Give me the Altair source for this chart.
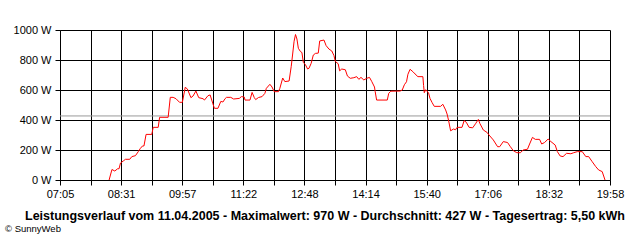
import json
import altair as alt
import pandas as pd

# Time of day (HH:MM) and power (W)
times = ["08:14","08:18","08:22","08:26","08:28","08:30","08:34","08:37","08:43","08:46",
         "08:51","08:55","08:58","09:01","09:03","09:06","09:14","09:16","09:23","09:25",
         "09:37","09:40","09:44","09:48","09:53","09:57","10:01","10:04","10:09","10:12",
         "10:16","10:20","10:26","10:28","10:33","10:36","10:40","10:42","10:47","10:51",
         "10:54","10:57","10:59","11:05","11:09","11:17","11:20","11:24","11:25","11:32",
         "11:35","11:38","11:40","11:44","11:49","11:53","11:55","12:00","12:03","12:06",
         "12:12","12:14","12:18","12:21","12:27","12:30","12:32","12:34","12:36","12:38",
         "12:40","12:43","12:45","12:47","12:50","12:53","12:55","12:58","13:01","13:04",
         "13:08","13:10","13:16","13:19","13:23","13:27","13:30","13:32","13:36","13:38",
         "13:41","13:46","13:49","13:53","13:58","14:02","14:05","14:08","14:12","14:16",
         "14:20","14:23","14:27","14:28","14:30","14:45","14:47","14:50","15:03","15:06",
         "15:09","15:12","15:14","15:17","15:21","15:24","15:28","15:35","15:36","15:37",
         "15:39","15:43","15:45","15:48","15:51","16:00","16:03","16:07","16:09","16:11",
         "16:14","16:18","16:21","16:23","16:30","16:33","16:36","16:40","16:45","16:49",
         "16:53","16:55","17:00","17:05","17:08","17:14","17:20","17:23","17:28","17:34",
         "17:38","17:42","17:47","17:52","17:56","18:02","18:05","18:09","18:13","18:19",
         "18:22","18:26","18:31","18:35","18:41","18:44","18:48","18:52","18:57","19:03",
         "19:07","19:12","19:19","19:24","19:28","19:33","19:38","19:42","19:47","19:51"]
watts = [0,70,60,75,75,113,127,138,138,156,
         162,189,211,227,227,304,304,351,351,418,
         418,551,551,542,518,518,618,607,549,560,
         593,549,542,533,562,567,507,478,478,524,
         520,542,551,551,540,544,556,553,533,533,
         584,550,536,550,556,578,611,638,620,589,
         589,611,680,656,660,758,840,925,970,940,
         878,856,850,784,768,740,745,778,833,844,
         846,927,933,896,873,860,830,790,775,728,
         740,735,693,678,682,689,671,684,667,678,
         684,658,620,589,533,533,578,592,593,600,
         635,655,705,738,722,707,689,689,630,582,
         602,580,544,516,491,491,505,467,440,400,
         328,340,335,351,351,396,385,351,348,375,
         404,378,333,318,300,267,222,222,256,250,
         222,196,182,182,200,205,240,284,271,271,
         240,250,273,256,233,189,160,156,178,175,
         182,189,189,156,156,122,89,67,56,0]

tick_labels = ["07:05","08:31","09:57","11:22","12:48","14:14","15:40","17:06","18:32","19:58"]
y_ticks = [0, 200, 400, 600, 800, 1000]
average_w = [427]
title_text = ["Leistungsverlauf vom 11.04.2005 - Maximalwert: 970 W - Durchschnitt: 427 W - Tagesertrag: 5,50 kWh"]
credit_text = ["\u00a9 SunnyWeb"]


def to_min(s):
    h, m = s.split(":")
    return int(h) * 60 + int(m)


t0 = to_min(tick_labels[0])
t1 = to_min(tick_labels[-1])
n_grid = 2 * (len(tick_labels) - 1)
step = (t1 - t0) / n_grid
tick_vals = [t0 + i * step for i in range(n_grid + 1)]

df = pd.DataFrame({"t": [to_min(s) for s in times], "w": watts})

FONT = "Liberation Sans"

label_expr = (
    f"(round((datum.value-{t0})/{step}) % 2 == 0) ? "
    f"{json.dumps(tick_labels)}[round((datum.value-{t0})/{step})/2] : ''"
)

x_enc = alt.X(
    "t:Q",
    scale=alt.Scale(domain=[t0, t1], nice=False, zero=False),
    axis=alt.Axis(
        values=tick_vals, labelExpr=label_expr, title=None, grid=True,
        gridColor="black", gridWidth=1, gridOpacity=1,
        tickColor="black", tickSize=5, tickWidth=1,
        domainColor="black", domainWidth=1,
        labelFont=FONT, labelFontSize=11, labelColor="black",
        labelPadding=3, labelFlush=False, labelOverlap=False,
    ),
)
y_axis = alt.Axis(
    values=y_ticks, labelExpr="datum.value + ' W'", title=None, grid=True,
    gridColor="black", gridWidth=1, gridOpacity=1,
    tickColor="black", tickSize=5, tickWidth=1,
    domainColor="black", domainWidth=1,
    labelFont=FONT, labelFontSize=11, labelColor="black",
    labelPadding=4, labelFlush=False, labelOverlap=False,
)
y_scale = alt.Scale(domain=[0, 1000], nice=False)

line = alt.Chart(df).mark_line(color="#ff0000", strokeWidth=1, clip=True).encode(
    x=x_enc, y=alt.Y("w:Q", scale=y_scale, axis=y_axis)
)

avg = alt.Chart(pd.DataFrame({"w": average_w})).mark_rule(
    color="#999999", strokeWidth=1
).encode(y=alt.Y("w:Q", scale=y_scale, axis=y_axis))

title = alt.Chart(pd.DataFrame({"txt": title_text})).mark_text(
    font=FONT, fontSize=12.5, fontWeight="bold", color="black", align="center", baseline="alphabetic"
).encode(text="txt:N", x=alt.value(265), y=alt.value(40 + 150))

credit = alt.Chart(pd.DataFrame({"txt": credit_text})).mark_text(
    font=FONT, fontSize=9.5, color="black", align="left", baseline="alphabetic"
).encode(text="txt:N", x=alt.value(-55), y=alt.value(52 + 150))

chart = alt.layer(avg, line, title, credit).properties(
    width=550, height=150,
    autosize=alt.AutoSizeParams(type="none"),
    padding={"left": 60, "top": 30, "right": 30, "bottom": 60},
    background="white",
).configure_view(stroke=None)

chart.save("out.html", embed_options={"renderer": "svg", "actions": False})
